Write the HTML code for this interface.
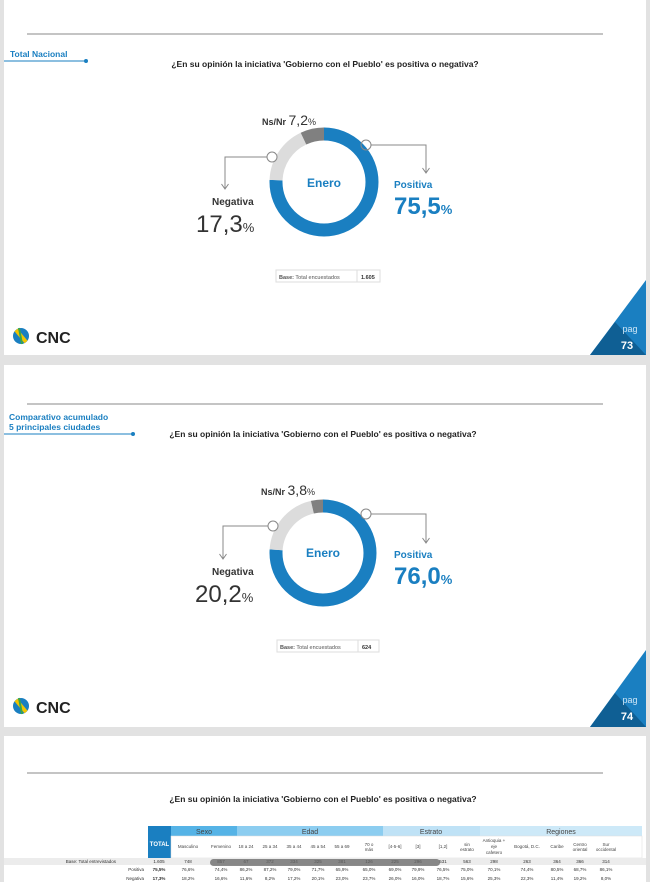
<!DOCTYPE html>
<html><head><meta charset="utf-8"><style>
html,body{margin:0;padding:0;background:#e4e4e4;width:650px;height:882px;overflow:hidden;font-family:"Liberation Sans",sans-serif}
svg text{font-family:"Liberation Sans",sans-serif}
</style></head><body>
<svg width="650" height="882" viewBox="0 0 650 882" xmlns="http://www.w3.org/2000/svg">
<rect width="650" height="882" fill="#e2e2e2"/>
<!-- slide 1 -->
<rect x="4" y="0" width="642" height="355" fill="#fff"/>
<line x1="27" y1="34" x2="603" y2="34" stroke="#888" stroke-width="1"/>
<text x="10" y="57" font-size="8.5" fill="#1a7fc1" font-weight="bold">Total Nacional</text>
<line x1="4" y1="61" x2="86" y2="61" stroke="#1a7fc1" stroke-width="1"/><circle cx="86" cy="61" r="2" fill="#1a7fc1"/>
<text x="325" y="67" font-size="8.5" font-weight="bold" text-anchor="middle" fill="#222">¿En su opinión la iniciativa 'Gobierno con el Pueblo' es positiva o negativa?</text>
<g transform="translate(324,182) rotate(-90)">
<circle r="48" fill="none" stroke="#1a7fc1" stroke-width="13" stroke-dasharray="227.7 400"/>
<circle r="48" fill="none" stroke="#dcdcdc" stroke-width="13" stroke-dasharray="0 227.7 52.2 400"/>
<circle r="48" fill="none" stroke="#808080" stroke-width="13" stroke-dasharray="0 279.9 21.7 400"/>
</g>
<text x="324" y="187" font-size="12" font-weight="bold" fill="#1a7fc1" text-anchor="middle">Enero</text>
<circle cx="272" cy="157" r="5" fill="#fff" stroke="#888"/>
<circle cx="366" cy="145" r="5" fill="none" stroke="#888"/>
<polyline points="267,157 225,157 225,189" fill="none" stroke="#888"/>
<polyline points="221.5,184 225,189 228.5,184" fill="none" stroke="#888"/>
<polyline points="371,145 426,145 426,173" fill="none" stroke="#888"/>
<polyline points="422.5,168 426,173 429.5,168" fill="none" stroke="#888"/>
<text x="262" y="125" font-size="9" font-weight="bold" fill="#333">Ns/Nr <tspan font-size="14" font-weight="normal">7,2</tspan><tspan font-size="9" font-weight="normal">%</tspan></text>
<text x="212" y="205" font-size="10" font-weight="bold" fill="#333">Negativa</text>
<text x="196" y="232" font-size="24" fill="#333">17,3<tspan font-size="13">%</tspan></text>
<text x="394" y="188" font-size="10" font-weight="bold" fill="#1a7fc1">Positiva</text>
<text x="394" y="214" font-size="24" font-weight="bold" fill="#1a7fc1">75,5<tspan font-size="13">%</tspan></text>
<rect x="276" y="270" width="104" height="12" fill="#fff" stroke="#ddd"/><line x1="357" y1="270" x2="357" y2="282" stroke="#ddd"/>
<text x="279" y="279" font-size="5.5" fill="#555"><tspan font-weight="bold">Base:</tspan> Total encuestados</text>
<text x="361" y="279" font-size="5.5" font-weight="bold" fill="#333">1.605</text>
<circle cx="21" cy="336" r="8" fill="#1a7fc1"/><path d="M16,330 L26,342" stroke="#f2c500" stroke-width="4"/><path d="M19,328 L22,344" stroke="#3aa64a" stroke-width="2"/>
<text x="36" y="343" font-size="16" font-weight="bold" fill="#222">CNC</text>
<polygon points="590,355 646,280 646,355" fill="#1a7fc1"/><polygon points="590,355 615,322 646,355" fill="#0f5f94"/>
<text x="630" y="332" font-size="9" fill="#cfe6f6" text-anchor="middle">pag</text>
<text x="627" y="349" font-size="11" font-weight="bold" fill="#fff" text-anchor="middle">73</text>
<!-- slide 2 -->
<rect x="4" y="365" width="642" height="362" fill="#fff"/>
<line x1="27" y1="404" x2="603" y2="404" stroke="#888" stroke-width="1"/>
<text x="9" y="420" font-size="8.5" fill="#1a7fc1" font-weight="bold">Comparativo acumulado</text>
<text x="9" y="430" font-size="8.5" fill="#1a7fc1" font-weight="bold">5 principales ciudades</text>
<line x1="4" y1="434" x2="133" y2="434" stroke="#1a7fc1" stroke-width="1"/><circle cx="133" cy="434" r="2" fill="#1a7fc1"/>
<text x="323" y="437" font-size="8.5" font-weight="bold" text-anchor="middle" fill="#222">¿En su opinión la iniciativa 'Gobierno con el Pueblo' es positiva o negativa?</text>
<g transform="translate(323,553) rotate(-90)">
<circle r="47" fill="none" stroke="#1a7fc1" stroke-width="13" stroke-dasharray="224.4 400"/>
<circle r="47" fill="none" stroke="#dcdcdc" stroke-width="13" stroke-dasharray="0 224.4 59.7 400"/>
<circle r="47" fill="none" stroke="#808080" stroke-width="13" stroke-dasharray="0 284.1 11.2 400"/>
</g>
<text x="323" y="557" font-size="12" font-weight="bold" fill="#1a7fc1" text-anchor="middle">Enero</text>
<circle cx="273" cy="526" r="5" fill="#fff" stroke="#888"/>
<circle cx="366" cy="514" r="5" fill="none" stroke="#888"/>
<polyline points="268,526 223,526 223,559" fill="none" stroke="#888"/>
<polyline points="219.5,554 223,559 226.5,554" fill="none" stroke="#888"/>
<polyline points="371,514 426,514 426,543" fill="none" stroke="#888"/>
<polyline points="422.5,538 426,543 429.5,538" fill="none" stroke="#888"/>
<text x="261" y="495" font-size="9" font-weight="bold" fill="#333">Ns/Nr <tspan font-size="14" font-weight="normal">3,8</tspan><tspan font-size="9" font-weight="normal">%</tspan></text>
<text x="212" y="575" font-size="10" font-weight="bold" fill="#333">Negativa</text>
<text x="195" y="602" font-size="24" fill="#333">20,2<tspan font-size="13">%</tspan></text>
<text x="394" y="558" font-size="10" font-weight="bold" fill="#1a7fc1">Positiva</text>
<text x="394" y="584" font-size="24" font-weight="bold" fill="#1a7fc1">76,0<tspan font-size="13">%</tspan></text>
<rect x="277" y="640" width="102" height="12" fill="#fff" stroke="#ddd"/><line x1="358" y1="640" x2="358" y2="652" stroke="#ddd"/>
<text x="280" y="649" font-size="5.5" fill="#555"><tspan font-weight="bold">Base:</tspan> Total encuestados</text>
<text x="362" y="649" font-size="5.5" font-weight="bold" fill="#333">624</text>
<circle cx="21" cy="706" r="8" fill="#1a7fc1"/><path d="M16,700 L26,712" stroke="#f2c500" stroke-width="4"/><path d="M19,698 L22,714" stroke="#3aa64a" stroke-width="2"/>
<text x="36" y="713" font-size="16" font-weight="bold" fill="#222">CNC</text>
<polygon points="590,727 646,650 646,727" fill="#1a7fc1"/><polygon points="590,727 615,693 646,727" fill="#0f5f94"/>
<text x="630" y="703" font-size="9" fill="#cfe6f6" text-anchor="middle">pag</text>
<text x="627" y="720" font-size="11" font-weight="bold" fill="#fff" text-anchor="middle">74</text>
<!-- slide 3 -->
<rect x="4" y="736" width="642" height="146" fill="#fff"/>
<line x1="27" y1="773" x2="603" y2="773" stroke="#888" stroke-width="1"/>
<text x="323" y="802" font-size="8.5" font-weight="bold" text-anchor="middle" fill="#222">¿En su opinión la iniciativa 'Gobierno con el Pueblo' es positiva o negativa?</text>
<rect x="148" y="826" width="23" height="32" fill="#1a7fc1"/>
<text x="159.5" y="846" font-size="6" font-weight="bold" fill="#fff" text-anchor="middle">TOTAL</text>
<rect x="171" y="826" width="66" height="10" fill="#55b3e6"/>
<rect x="237" y="826" width="146" height="10" fill="#8ccdf0"/>
<rect x="383" y="826" width="97" height="10" fill="#bfe2f6"/>
<rect x="480" y="826" width="162" height="10" fill="#cde9f8"/>
<g font-size="7" fill="#444" text-anchor="middle">
<text x="204" y="834">Sexo</text><text x="310" y="834">Edad</text><text x="431" y="834">Estrato</text><text x="561" y="834">Regiones</text>
</g>
<rect x="171" y="836" width="471" height="22" fill="#fff" stroke="#ddd" stroke-width="0.5"/>
<g font-size="4.5" fill="#444" text-anchor="middle">
<text x="188" y="848">Masculino</text><text x="221" y="848">Femenino</text><text x="246" y="848">18 a 24</text><text x="270" y="848">25 a 34</text><text x="294" y="848">35 a 44</text><text x="318" y="848">45 a 54</text><text x="342" y="848">55 a 69</text><text x="369" y="846">70 o</text><text x="369" y="851">más</text><text x="395" y="848">[4-5-6]</text><text x="418" y="848">[3]</text><text x="443" y="848">[1,2]</text><text x="467" y="846">sin</text><text x="467" y="851">estrato</text><text x="494" y="842">Antioquia +</text><text x="494" y="848">eje</text><text x="494" y="854">cafetero</text><text x="527" y="848">Bogotá, D.C.</text><text x="557" y="848">Caribe</text><text x="580" y="846">Centro</text><text x="580" y="851">oriental</text><text x="606" y="846">Sur</text><text x="606" y="851">occidental</text>
</g>
<rect x="4" y="858" width="642" height="7" fill="#ececec"/>
<g font-size="4.5" fill="#333" text-anchor="middle">
<text x="116" y="863" text-anchor="end">Base: Total entrevistados</text>
<text x="159" y="863">1.605</text><text x="188" y="863">748</text><text x="221" y="863">857</text><text x="246" y="863">67</text><text x="270" y="863">372</text><text x="294" y="863">334</text><text x="318" y="863">325</text><text x="342" y="863">381</text><text x="369" y="863">126</text><text x="395" y="863">225</text><text x="418" y="863">296</text><text x="443" y="863">531</text><text x="467" y="863">563</text><text x="494" y="863">298</text><text x="527" y="863">263</text><text x="557" y="863">364</text><text x="580" y="863">366</text><text x="606" y="863">314</text>
<text x="144" y="871" text-anchor="end">Positiva</text>
<text x="159" y="871" font-weight="bold">75,5%</text><text x="188" y="871">76,6%</text><text x="221" y="871">74,4%</text><text x="246" y="871">86,2%</text><text x="270" y="871">87,2%</text><text x="294" y="871">79,0%</text><text x="318" y="871">71,7%</text><text x="342" y="871">65,9%</text><text x="369" y="871">65,0%</text><text x="395" y="871">69,0%</text><text x="418" y="871">79,9%</text><text x="443" y="871">76,5%</text><text x="467" y="871">75,0%</text><text x="494" y="871">70,1%</text><text x="527" y="871">74,4%</text><text x="557" y="871">80,5%</text><text x="580" y="871">68,7%</text><text x="606" y="871">86,1%</text>
<text x="144" y="880" text-anchor="end">Negativa</text>
<text x="159" y="880" font-weight="bold">17,3%</text><text x="188" y="880">18,2%</text><text x="221" y="880">16,6%</text><text x="246" y="880">11,6%</text><text x="270" y="880">8,2%</text><text x="294" y="880">17,2%</text><text x="318" y="880">20,1%</text><text x="342" y="880">23,0%</text><text x="369" y="880">23,7%</text><text x="395" y="880">26,0%</text><text x="418" y="880">16,0%</text><text x="443" y="880">18,7%</text><text x="467" y="880">15,6%</text><text x="494" y="880">25,3%</text><text x="527" y="880">22,3%</text><text x="557" y="880">11,4%</text><text x="580" y="880">19,2%</text><text x="606" y="880">8,0%</text>
</g>
<rect x="210" y="859" width="230" height="7" rx="3.5" fill="#666" opacity="0.75"/>
</svg>
</body></html>
